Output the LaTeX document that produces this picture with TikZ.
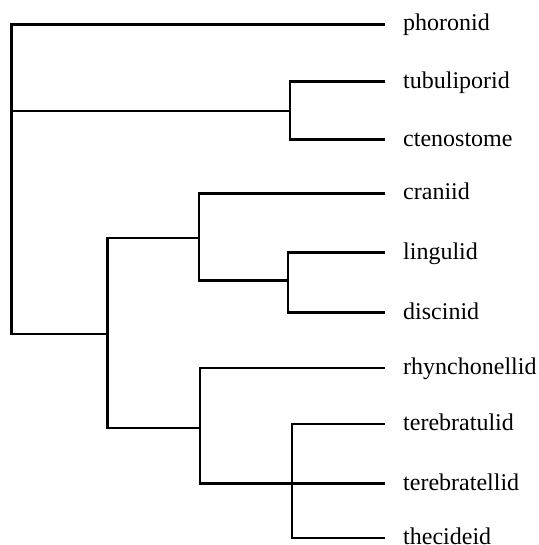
\documentclass[tikz,border=0pt]{standalone}
\usepackage{fontspec}
\setmainfont{Liberation Serif}
\begin{document}
\begin{tikzpicture}[x=1bp,y=-1bp,
  tree/.style={line width=2.8bp,line cap=rect,line join=miter},
  leaf/.style={anchor=west,inner xsep=19bp,inner ysep=0pt,text height=17bp,text depth=4bp,
    font=\fontsize{24bp}{28bp}\selectfont}]
\useasboundingbox (0,0) rectangle (539,545);
\node[leaf] (phoronid) at (384,24.3) {phoronid};
\node[leaf] (tubuliporid) at (384,81.6) {tubuliporid};
\node[leaf] (ctenostome) at (384,139.6) {ctenostome};
\node[leaf] (craniid) at (384,193.4) {craniid};
\node[leaf] (lingulid) at (384,252.8) {lingulid};
\node[leaf] (discinid) at (384,312.5) {discinid};
\node[leaf] (rhynchonellid) at (384,368) {rhynchonellid};
\node[leaf] (terebratulid) at (384,424) {terebratulid};
\node[leaf] (terebratellid) at (384,483.7) {terebratellid};
\node[leaf] (thecideid) at (384,538) {thecideid};
\coordinate (R) at (11.5,334);
\coordinate (A) at (290,111);
\coordinate (B) at (107.6,334);
\coordinate (C) at (199,238);
\coordinate (D) at (288,280.5);
\coordinate (E) at (200,428);
\coordinate (F) at (292,482);
\draw[tree] (phoronid.west) -| (R) -- (B);
\draw[tree] (R|-A) -- (A);
\draw[tree] (tubuliporid.west) -| (A) |- (ctenostome.west);
\draw[tree] (craniid.west) -| (C) |- (D);
\draw[tree] (lingulid.west) -| (D) |- (discinid.west);
\draw[tree] (C) -| (B) |- (E);
\draw[tree] (rhynchonellid.west) -| (E) |- (terebratellid.west);
\draw[tree] (terebratulid.west) -| (F) |- (thecideid.west);
\end{tikzpicture}
\end{document}
